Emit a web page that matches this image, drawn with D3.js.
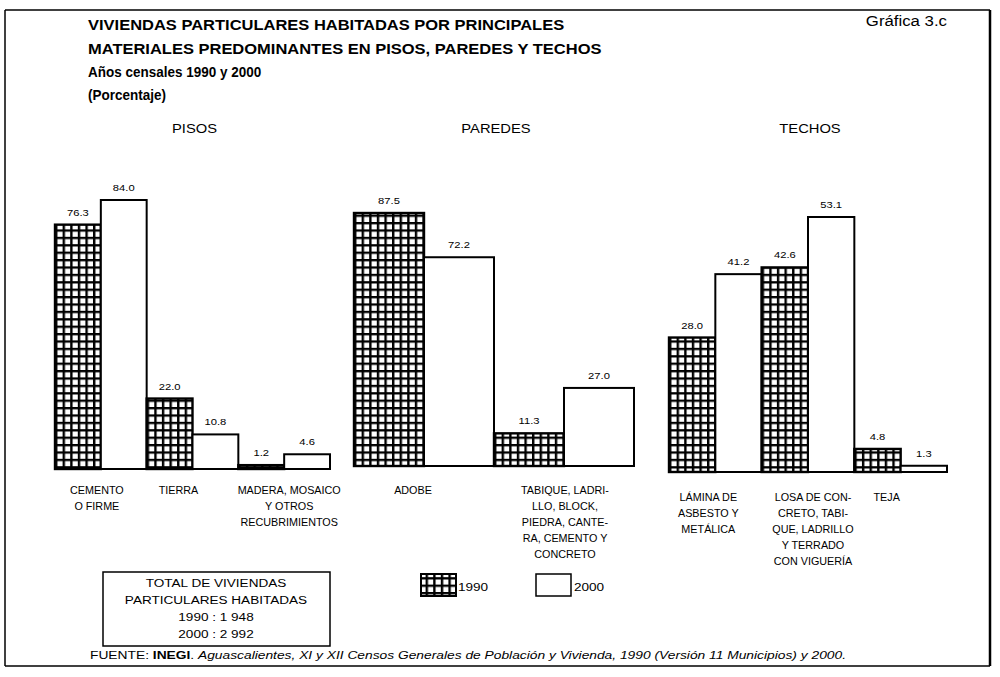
<!DOCTYPE html>
<html>
<head>
<meta charset="utf-8">
<script src="https://cdn.jsdelivr.net/npm/d3@7"></script>
<style>
  html, body { margin: 0; padding: 0; background: #fff; }
  svg { display: block; font-family: "Liberation Sans", Arial, Helvetica, sans-serif; }
</style>
</head>
<body>
<svg id="chart" width="1000" height="677"></svg>
<script>
// data
var pisosCats = [["CEMENTO", "O FIRME"], ["TIERRA"], ["MADERA, MOSAICO", "Y OTROS", "RECUBRIMIENTOS"]];
var pisos1990 = [76.3, 22.0, 1.2];
var pisos2000 = [84.0, 10.8, 4.6];

var paredesCats = [["ADOBE"], ["TABIQUE, LADRI-", "LLO, BLOCK,", "PIEDRA, CANTE-", "RA, CEMENTO Y", "CONCRETO"]];
var paredes1990 = [87.5, 11.3];
var paredes2000 = [72.2, 27.0];

var techosCats = [["LÁMINA DE", "ASBESTO Y", "METÁLICA"], ["LOSA DE CON-", "CRETO, TABI-", "QUE, LADRILLO", "Y TERRADO", "CON VIGUERÍA"], ["TEJA"]];
var techos1990 = [28.0, 42.6, 4.8];
var techos2000 = [41.2, 53.1, 1.3];

var years = ["1990", "2000"];
var totalLines = ["TOTAL DE VIVIENDAS", "PARTICULARES HABITADAS", "1990 : 1 948", "2000 :  2 992"];
var titleLines = ["VIVIENDAS PARTICULARES HABITADAS POR PRINCIPALES",
                  "MATERIALES PREDOMINANTES EN PISOS, PAREDES Y TECHOS"];
var subtitleLines = ["Años censales 1990 y 2000", "(Porcentaje)"];

// scanned text is a bit wider than the font
var SX = 1.18;

var svg = d3.select("#chart");

function txt(parent, x, y, str, size, opts) {
	opts = opts || {};
	var t = parent.append("text")
		.attr("transform", "translate(" + x + "," + y + ") scale(" + (opts.sx || SX) + ",1)")
		.attr("font-size", size)
		.attr("text-anchor", opts.anchor || "start")
		.attr("font-weight", opts.weight || "normal")
		.attr("fill", "#000")
		.text(str);
	return t;
}

var defs = svg.append("defs");
var pat = defs.append("pattern")
	.attr("id", "grid")
	.attr("patternUnits", "userSpaceOnUse")
	.attr("width", 7.6)
	.attr("height", 7.4);
pat.append("rect").attr("width", 7.6).attr("height", 7.4).attr("fill", "#000");
pat.append("rect").attr("x", 2.4).attr("y", 2.3).attr("width", 5.2).attr("height", 5.1).attr("fill", "#fff");

// frame
var frame = svg.append("g").attr("stroke", "#000").attr("fill", "none");
frame.append("line").attr("x1", 5).attr("y1", 10).attr("x2", 990).attr("y2", 10).attr("stroke-width", 1.5);
frame.append("line").attr("x1", 5).attr("y1", 10).attr("x2", 5).attr("y2", 666).attr("stroke-width", 1.5);
frame.append("line").attr("x1", 990).attr("y1", 10).attr("x2", 990).attr("y2", 666).attr("stroke-width", 2.5);
frame.append("line").attr("x1", 5).attr("y1", 666).attr("x2", 990).attr("y2", 666).attr("stroke-width", 1.5);

// titles
titleLines.forEach(function (l, i) {
	txt(svg, 88, 30 + i * 23.5, l, 15, { weight: "bold", sx: 1.1 });
});
subtitleLines.forEach(function (l, i) {
	txt(svg, 88, 77 + i * 23, l, 14.5, { weight: "bold", sx: 0.93 });
});
txt(svg, 947, 26, "Gráfica 3.c", 15, { anchor: "end", sx: 1.12 });

var panels = [
	{ name: "PISOS", cats: pisosCats, v1: pisos1990, v2: pisos2000, x0: 55, x1: 330, base: 469, top: 200, labY: 494, dx: [-4, -14, 5] },
	{ name: "PAREDES", cats: paredesCats, v1: paredes1990, v2: paredes2000, x0: 354, x1: 634, base: 466, top: 213, labY: 494, dx: [-11, 1] },
	{ name: "TECHOS", cats: techosCats, v1: techos1990, v2: techos2000, x0: 669, x1: 947, base: 472, top: 217, labY: 501, dx: [-7, 5, -14] }
];

panels.forEach(function (p) {
	var g = svg.append("g");
	var idx = d3.range(p.cats.length);
	var x = d3.scaleBand().domain(idx).range([p.x0, p.x1]).paddingInner(0);
	var xs = d3.scaleBand().domain(years).range([0, x.bandwidth()]);
	var y = d3.scaleLinear().domain([0, d3.max(p.v1.concat(p.v2))]).range([p.base, p.top]);

	txt(g, (p.x0 + p.x1) / 2 + 2, 133, p.name, 12.5, { anchor: "middle" });

	idx.forEach(function (i) {
		var vals = [p.v1[i], p.v2[i]];
		var grp = g.append("g").attr("transform", "translate(" + x(i) + ",0)");
		grp.selectAll("rect").data(vals).enter().append("rect")
			.attr("x", function (d, j) { return xs(years[j]); })
			.attr("y", function (d) { return y(d); })
			.attr("width", xs.bandwidth())
			.attr("height", function (d) { return y(0) - y(d); })
			.attr("fill", function (d, j) { return j == 0 ? "url(#grid)" : "#fff"; })
			.attr("stroke", "#000")
			.attr("stroke-width", function (d, j) { return j == 0 ? 2.4 : 2; });
		vals.forEach(function (d, j) {
			txt(grp, xs(years[j]) + xs.bandwidth() / 2, y(d) - 9, d.toFixed(1), 9.5, { anchor: "middle" });
		});
		p.cats[i].forEach(function (line, k) {
			txt(g, x(i) + x.bandwidth() / 2 + p.dx[i], p.labY + k * 16, line, 10, { anchor: "middle", sx: 1.08 });
		});
	});
});

// totals box
var box = svg.append("g");
box.append("rect").attr("x", 103).attr("y", 572).attr("width", 227).attr("height", 74)
	.attr("fill", "#fff").attr("stroke", "#000").attr("stroke-width", 1.5);
totalLines.forEach(function (l, i) {
	txt(box, 216, 587 + i * 17, l, 11.5, { anchor: "middle" });
});

// legend
var leg = svg.append("g");
leg.append("rect").attr("x", 421).attr("y", 574).attr("width", 35).attr("height", 22)
	.attr("fill", "url(#grid)").attr("stroke", "#000").attr("stroke-width", 2);
txt(leg, 458, 591, years[0], 11.5);
leg.append("rect").attr("x", 536).attr("y", 574).attr("width", 35).attr("height", 22)
	.attr("fill", "#fff").attr("stroke", "#000").attr("stroke-width", 1.5);
txt(leg, 574, 591, years[1], 11.5);

// source
var src = txt(svg, 90, 659, "", 11.5, { sx: 1.2 });
src.append("tspan").text("FUENTE: ");
src.append("tspan").attr("font-weight", "bold").text("INEGI");
src.append("tspan").text(". ");
src.append("tspan").attr("font-style", "italic")
	.text("Aguascalientes, XI y XII Censos Generales de Población y Vivienda, 1990 (Versión 11 Municipios)  y 2000.");
</script>
</body>
</html>
